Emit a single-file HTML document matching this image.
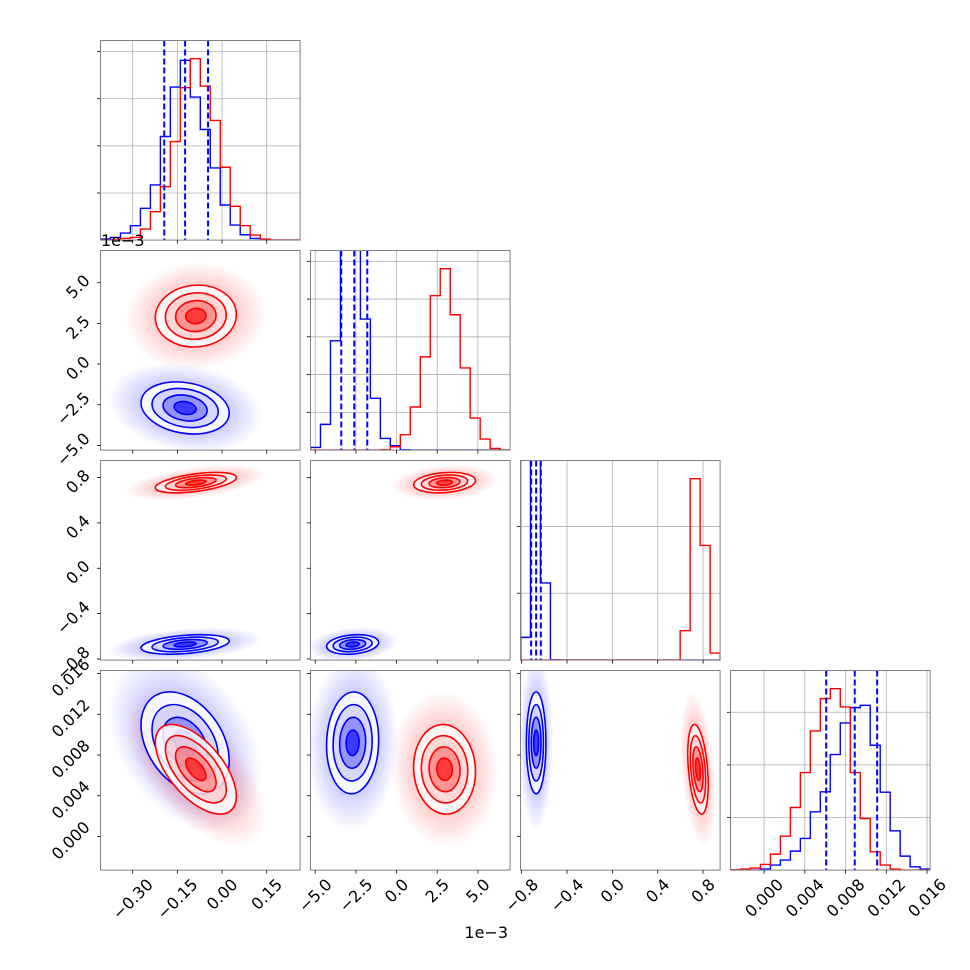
<!DOCTYPE html>
<html><head><meta charset="utf-8"><style>
html,body{margin:0;padding:0;background:#fff;}
svg{display:block;font-family:"DejaVu Sans","Liberation Sans",sans-serif;}
</style></head><body>
<svg id="chart" width="970" height="970" viewBox="0 0 970 970" xmlns="http://www.w3.org/2000/svg">
<defs id="defs"></defs>
<rect x="0" y="0" width="970" height="970" fill="#fff"/>
<g id="root"></g>
</svg>
<script>
// ---- data ----
const ranges0 = [-0.408, 0.262];
const ranges1 = [-5.29, 6.98];
const ranges2 = [-0.81, 0.95];
const ranges3 = [-0.0033, 0.0163];
const tick0 = [-0.30, -0.15, 0.00, 0.15];
const tick1 = [-5.0, -2.5, 0.0, 2.5, 5.0];
const tick2 = [-0.8, -0.4, 0.0, 0.4, 0.8];
const tick3 = [0.000, 0.004, 0.008, 0.012, 0.016];
const tickLabels0 = ["\u22120.30", "\u22120.15", "0.00", "0.15"];
const tickLabels1 = ["\u22125.0", "\u22122.5", "0.0", "2.5", "5.0"];
const tickLabels2 = ["\u22120.8", "\u22120.4", "0.0", "0.4", "0.8"];
const tickLabels3 = ["0.000", "0.004", "0.008", "0.012", "0.016"];
// histogram bin counts (20 bins across each axis range)
const histBlue0 = [3,8,21,43,95,165,310,458,538,428,331,216,105,45,16,5,1,0,0,0];
const histRed0  = [0,1,5,8,33,85,160,295,456,543,461,358,218,101,43,15,3,0,0,0];
const histBlue1 = [8,77,327,900,950,392,155,35,13,1,0,0,0,0,0,0,0,0,0,0];
const histRed1  = [0,0,0,0,0,0,0,1,10,46,129,279,462,543,405,246,96,33,5,0];
const histBlue2 = [68,1400,231,1,0,0,0,0,0,0,0,0,0,0,0,0,0,0,0,0];
const histRed2  = [0,0,0,0,0,0,0,0,0,0,0,0,0,0,0,0,88,543,343,21];
const histBlue3 = [0,0,0,3,15,30,57,95,175,235,347,442,488,495,375,234,118,42,10,3];
const histRed3  = [1,3,6,17,48,102,188,293,418,515,545,490,293,155,55,15,3,0,0,0];
const histTicks0 = [141,282,423,564];
const histTicks1 = [113,226,339,452,565];
const histTicks2 = [200,400];
const histTicks3 = [158,316,474];
// quantile lines (blue)
const quantBlue0 = [-0.194,-0.124,-0.047];
const quantBlue1 = [-3.4,-2.6,-1.8];
const quantBlue2 = [-0.716,-0.672,-0.631];
const quantBlue3 = [0.0061,0.0089,0.0111];
// 2D gaussian summaries
const meanBlue = [-0.124,-2.7,-0.672,0.0092];
const sdBlue   = [0.074,0.8,0.043,0.0025];
const meanRed  = [-0.088,2.95,0.755,0.0066];
const sdRed    = [0.068,0.95,0.045,0.0022];
const corrBlue = [[1,-0.2,0.35,-0.35],[-0.2,1,0.2,0.05],[0.35,0.2,1,0.0],[-0.35,0.05,0.0,1]];
const corrRed  = [[1,0.05,0.5,-0.6],[0.05,1,0.2,-0.05],[0.5,0.2,1,-0.35],[-0.6,-0.05,-0.35,1]];

const ranges=[ranges0,ranges1,ranges2,ranges3];
const ticks=[tick0,tick1,tick2,tick3];
const tickLabels=[tickLabels0,tickLabels1,tickLabels2,tickLabels3];
const histsB=[histBlue0,histBlue1,histBlue2,histBlue3];
const histsR=[histRed0,histRed1,histRed2,histRed3];
const histTicks=[histTicks0,histTicks1,histTicks2,histTicks3];
const quants=[quantBlue0,quantBlue1,quantBlue2,quantBlue3];

const NS="http://www.w3.org/2000/svg";
const root=document.getElementById('root');
const defs=document.getElementById('defs');
const W=199.6,H=199.6;
const FS=16;
function L(j){return 100.5+210*j;}
function T(i){return 40.5+210*i;}
function xs(j,v){const r=ranges[j];return L(j)+(v-r[0])/(r[1]-r[0])*W;}
function ys(i,v){const r=ranges[i];return T(i)+H-(v-r[0])/(r[1]-r[0])*H;}
function mk(tag,attrs,parent){const e=document.createElementNS(NS,tag);for(const k in attrs)e.setAttribute(k,attrs[k]);(parent||root).appendChild(e);return e;}

[['blue','#0000ff'],['red','#ff0000']].forEach(([n,c])=>{
  const g=mk('radialGradient',{id:'cloud-'+n},defs);
  mk('stop',{offset:'0','stop-color':c,'stop-opacity':'0.4'},g);
  mk('stop',{offset:'0.55','stop-color':c,'stop-opacity':'0.2'},g);
  mk('stop',{offset:'1','stop-color':c,'stop-opacity':'0'},g);
});

function panelFrame(i,j){
  const clip=mk('clipPath',{id:'clip-'+i+'-'+j},defs);
  mk('rect',{x:L(j),y:T(i),width:W,height:H},clip);
}

function xTicks(i,j,labels){
  const g=mk('g',{});
  
  
  ticks[j].forEach((v,k)=>{
    const x=xs(j,v);
    mk('line',{x1:x,x2:x,y1:T(i)+H,y2:T(i)+H+3.5,stroke:'#000','stroke-width':0.8},g);
    if(labels){
      const t=mk('text',{x:0,y:0,'font-size':FS,'text-anchor':'middle','dominant-baseline':'central',fill:'#000'},g);
      t.textContent=tickLabels[j][k];
      
      
      const w=t.getComputedTextLength();
      const s=(w+13)*0.7071;
      t.setAttribute('transform','translate('+x+','+(T(i)+H+7+s/2)+') rotate(-45)');
    }
  });
}
function yTicks(i,j,labels){
  const g=mk('g',{});
  
  
  ticks[i].forEach((v,k)=>{
    const y=ys(i,v);
    mk('line',{x1:L(j)-3.5,x2:L(j),y1:y,y2:y,stroke:'#000','stroke-width':0.8},g);
    if(labels){
      const t=mk('text',{x:0,y:0,'font-size':FS,'text-anchor':'middle','dominant-baseline':'central',fill:'#000'},g);
      t.textContent=tickLabels[i][k];
      
      
      const w=t.getComputedTextLength();
      const s=(w+13)*0.7071;
      t.setAttribute('transform','translate('+(L(j)-9-s/2)+','+(y+4)+') rotate(-45)');
    }
  });
}
function border(i,j){
  mk('rect',{x:L(j),y:T(i),width:W,height:H,fill:'none',stroke:'#808080','stroke-width':1});
}

for(let d=0;d<4;d++){
  panelFrame(d,d);
  const g=mk('g',{'clip-path':'url(#clip-'+d+'-'+d+')'});
  
  
  const ymax=1.1*Math.max(...histsR[d]);
  const hy=c=>T(d)+H-c/ymax*H;
  ticks[d].forEach(v=>{const x=xs(d,v);mk('line',{x1:x,x2:x,y1:T(d),y2:T(d)+H,stroke:'#b0b0b0','stroke-width':0.8},g);});
  histTicks[d].forEach(c=>{const y=hy(c);mk('line',{x1:L(d),x2:L(d)+W,y1:y,y2:y,stroke:'#b0b0b0','stroke-width':0.8},g);});
  const r=ranges[d],bw=(r[1]-r[0])/20;
  [['blue',histsB[d]],['red',histsR[d]]].forEach(([c,h])=>{
    let p='M'+xs(d,r[0])+','+hy(0);
    h.forEach((v,k)=>{const x0=xs(d,r[0]+k*bw),x1=xs(d,r[0]+(k+1)*bw);p+=' L'+x0+','+hy(v)+' L'+x1+','+hy(v);});
    p+=' L'+xs(d,r[1])+','+hy(0);
    const e=mk('path',{d:p,fill:'none',stroke:c,'stroke-width':1.4},g);
    
    
  });
  quants[d].forEach(q=>{
    const x=xs(d,q);
    const e=mk('line',{x1:x,x2:x,y1:T(d),y2:T(d)+H,stroke:'#0000ff','stroke-width':2,'stroke-dasharray':'6,3'},g);
    
    
  });
  histTicks[d].forEach(c=>{const y=hy(c);mk('line',{x1:L(d)-3.5,x2:L(d),y1:y,y2:y,stroke:'#000','stroke-width':0.8});});
  border(d,d);
  xTicks(d,d,d===3);
}

function ell(i,j,mean,sd,corr){
  const cx=xs(j,mean[j]),cy=ys(i,mean[i]);
  const kx=W/(ranges[j][1]-ranges[j][0]),ky=H/(ranges[i][1]-ranges[i][0]);
  const sx=sd[j]*kx,sy=sd[i]*ky,c=-corr[i][j];
  const a=sx*sx,dd=sy*sy,b=c*sx*sy;
  const th=0.5*Math.atan2(2*b,a-dd);
  const m=(a+dd)/2,q=Math.sqrt(((a-dd)/2)**2+b*b);
  return {cx,cy,r1:Math.sqrt(m+q),r2:Math.sqrt(Math.max(m-q,0.01)),ang:th*180/Math.PI};
}
for(let i=1;i<4;i++){
  for(let j=0;j<i;j++){
    panelFrame(i,j);
    const g=mk('g',{'clip-path':'url(#clip-'+i+'-'+j+')'});
    
    
    const sets=[['blue','#0000ff',meanBlue,sdBlue,corrBlue],['red','#ff0000',meanRed,sdRed,corrRed]];
    const es=sets.map(s=>ell(i,j,s[2],s[3],s[4]));
    sets.forEach((s,n)=>{const e=es[n];
      const c=mk('ellipse',{cx:0,cy:0,rx:e.r1*3.5,ry:e.r2*3.5,fill:'url(#cloud-'+s[0]+')',transform:'translate('+e.cx+','+e.cy+') rotate('+e.ang+')'},g);
      
      
    });
    sets.forEach((s,n)=>{const e=es[n];
      [[2,'#fff',0.85],[1.5,s[1],0.12],[1,s[1],0.3],[0.5,s[1],0.6]].forEach(([k,f,o])=>{
        mk('ellipse',{cx:0,cy:0,rx:e.r1*k,ry:e.r2*k,fill:f,'fill-opacity':o,transform:'translate('+e.cx+','+e.cy+') rotate('+e.ang+')'},g);
      });
      [0.5,1,1.5,2].forEach(k=>{
        const c=mk('ellipse',{cx:0,cy:0,rx:e.r1*k,ry:e.r2*k,fill:'none',stroke:s[1],'stroke-width':1.6,transform:'translate('+e.cx+','+e.cy+') rotate('+e.ang+')'},g);
        
        
      });
    });
    border(i,j);
    xTicks(i,j,i===3);
    yTicks(i,j,j===0);
  }
}
const o1=mk('text',{x:101,y:246,'font-size':FS,fill:'#000'});o1.textContent='1e\u22123';


const o2=mk('text',{x:508,y:938,'font-size':FS,'text-anchor':'end',fill:'#000'});o2.textContent='1e\u22123';


</script>
</body></html>
